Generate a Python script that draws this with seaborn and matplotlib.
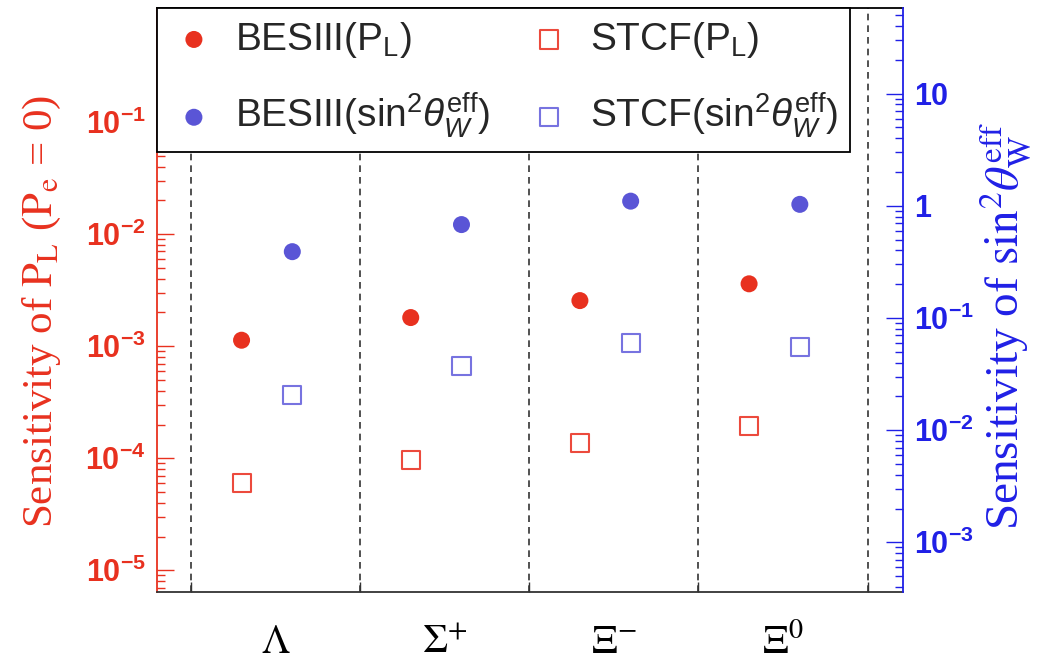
import numpy as np
import pandas as pd
import matplotlib
matplotlib.use("Agg")
import matplotlib.pyplot as plt
import seaborn as sns
from matplotlib.ticker import FixedLocator, FixedFormatter, LogLocator, NullFormatter

# values
hyperons = [r"$\Lambda$", r"$\Sigma^{+}$", r"$\Xi^{-}$", r"$\Xi^{0}$"]
besiii_pl = [1.13e-3, 1.80e-3, 2.55e-3, 3.60e-3]
stcf_pl = [6.0e-5, 9.6e-5, 1.38e-4, 1.93e-4]
besiii_sw = [0.39, 0.68, 1.10, 1.03]
stcf_sw = [0.0205, 0.037, 0.060, 0.055]

left_ticks = [1e-5, 1e-4, 1e-3, 1e-2, 1e-1]
left_tick_labels = [r"$\mathbf{10^{-5}}$", r"$\mathbf{10^{-4}}$", r"$\mathbf{10^{-3}}$",
                    r"$\mathbf{10^{-2}}$", r"$\mathbf{10^{-1}}$"]
right_ticks = [1e-3, 1e-2, 1e-1, 1, 10]
right_tick_labels = [r"$\mathbf{10^{-3}}$", r"$\mathbf{10^{-2}}$", r"$\mathbf{10^{-1}}$",
                     r"$\mathbf{1}$", r"$\mathbf{10}$"]

RED = "#e8311f"
RED_SQ = "#ec4a3d"
BLUE_DOT = "#5a55d6"
BLUE_SQ = "#7773e0"
BLUE_TXT = "#2020e6"

sns.set_style("white")
plt.rcParams["font.family"] = ["Liberation Sans", "DejaVu Sans"]
plt.rcParams["mathtext.fontset"] = "custom"
plt.rcParams["mathtext.rm"] = "Liberation Sans"
plt.rcParams["mathtext.it"] = "Liberation Sans:italic"
plt.rcParams["mathtext.bf"] = "Liberation Sans:bold"

idx = np.arange(len(hyperons))
df = pd.DataFrame({
    "hyperon": hyperons,
    "pos_pl": idx + 0.8,
    "pos_sw": idx + 1.1,
    "besiii_pl": besiii_pl,
    "stcf_pl": stcf_pl,
    "besiii_sw": besiii_sw,
    "stcf_sw": stcf_sw,
})

fig = plt.figure(figsize=(10.43, 6.66), dpi=100)
ax = fig.add_axes([0.1505, 0.111, 0.7153, 0.877])
ax2 = ax.twinx()

sns.scatterplot(data=df, x="pos_pl", y="besiii_pl", ax=ax, marker="o", s=150,
                color=RED, edgecolor="none", label=r"BESIII(P$_{\rm L}$)", legend=False)
sns.scatterplot(data=df, x="pos_pl", y="stcf_pl", ax=ax, marker="s", s=170,
                facecolor="none", edgecolor=RED_SQ, linewidth=1.5,
                label=r"STCF(P$_{\rm L}$)", legend=False)
sns.scatterplot(data=df, x="pos_sw", y="besiii_sw", ax=ax2, marker="o", s=150,
                color=BLUE_DOT, edgecolor="none",
                label=r"BESIII(sin$^{2}\theta_{W}^{\rm eff}$)", legend=False)
sns.scatterplot(data=df, x="pos_sw", y="stcf_sw", ax=ax2, marker="s", s=170,
                facecolor="none", edgecolor=BLUE_SQ, linewidth=1.5,
                label=r"STCF(sin$^{2}\theta_{W}^{\rm eff}$)", legend=False)

# x axis: dividers between hyperons
dividers = [0.5, 1.5, 2.5, 3.5, 4.5]
ax.set_xlim(0.3, 4.71)
for d in dividers:
    ax.axvline(d, color="#333333", ls=(0, (4, 3)), lw=1.2, zorder=0)
ax.set_xticks(dividers)
ax.set_xticklabels([])
ax.set_xlabel("")
ax.tick_params(axis="x", direction="in", length=7, width=1, color="#333333", bottom=True)
for i, name in enumerate(hyperons):
    ax.text(i + 1, -0.088, name, transform=ax.get_xaxis_transform(), ha="center",
            va="center", fontsize=29, color="black", family="Liberation Serif",
            math_fontfamily="stix")

# left axis
ax.set_yscale("log")
ax.set_ylim(6.4e-6, 1.04)
ax.yaxis.set_major_locator(FixedLocator(left_ticks))
ax.yaxis.set_major_formatter(FixedFormatter(left_tick_labels))
ax.yaxis.set_minor_locator(LogLocator(base=10, subs=np.arange(2, 10), numticks=20))
ax.yaxis.set_minor_formatter(NullFormatter())
ax.tick_params(axis="y", which="major", direction="in", length=12, width=1,
               colors=RED, labelsize=22, pad=8, left=True)
ax.tick_params(axis="y", which="minor", direction="in", length=6, width=1,
               colors=RED, left=True)
ax.set_ylabel(r"Sensitivity of $\mathrm{P_{L}}$ ($\mathrm{P_{e}}$ = 0)", color=RED,
              fontsize=31, family="Liberation Serif", math_fontfamily="stix", va="center")
ax.yaxis.set_label_coords(-0.154, 0.48)

# right axis
ax2.set_yscale("log")
ax2.set_ylim(3.6e-4, 58)
ax2.yaxis.set_major_locator(FixedLocator(right_ticks))
ax2.yaxis.set_major_formatter(FixedFormatter(right_tick_labels))
ax2.yaxis.set_minor_locator(LogLocator(base=10, subs=np.arange(2, 10), numticks=20))
ax2.yaxis.set_minor_formatter(NullFormatter())
ax2.tick_params(axis="y", which="major", direction="in", length=12, width=1,
                colors=BLUE_TXT, labelsize=22, pad=8, right=True)
ax2.tick_params(axis="y", which="minor", direction="in", length=6, width=1,
                colors=BLUE_TXT, right=True)
ax2.set_ylabel(r"Sensitivity of $\mathrm{sin}^{2}\theta_{\mathrm{W}}^{\mathrm{eff}}$",
               color=BLUE_TXT, fontsize=34, family="Liberation Serif",
               math_fontfamily="stix", va="center")
ax2.yaxis.set_label_coords(1.137, 0.455)

# spines
ax.spines["left"].set_color(RED)
ax.spines["right"].set_visible(False)
ax.spines["top"].set_color("black")
ax.spines["bottom"].set_color("#333333")
for side in ["left", "top", "bottom"]:
    ax2.spines[side].set_visible(False)
ax2.spines["right"].set_color("#2020e6")
for sp in list(ax.spines.values()) + list(ax2.spines.values()):
    sp.set_linewidth(1.3)

# legend, two columns
h1, l1 = ax.get_legend_handles_labels()
h2, l2 = ax2.get_legend_handles_labels()
handles = [h1[0], h2[0], h1[1], h2[1]]
labels = [l1[0], l2[0], l1[1], l2[1]]
leg = ax2.legend(handles, labels, ncol=2, loc="upper left",
                 bbox_to_anchor=(0.0, 0.76, 0.929, 0.24), mode="expand",
                 borderaxespad=0, fontsize=28, frameon=True, fancybox=False,
                 framealpha=1, edgecolor="black", handletextpad=0.4,
                 borderpad=0.3, labelspacing=0.8, handlelength=1.3,
                 columnspacing=0.6)
leg.get_frame().set_linewidth(1.3)

fig.savefig("out.png", dpi=100)
